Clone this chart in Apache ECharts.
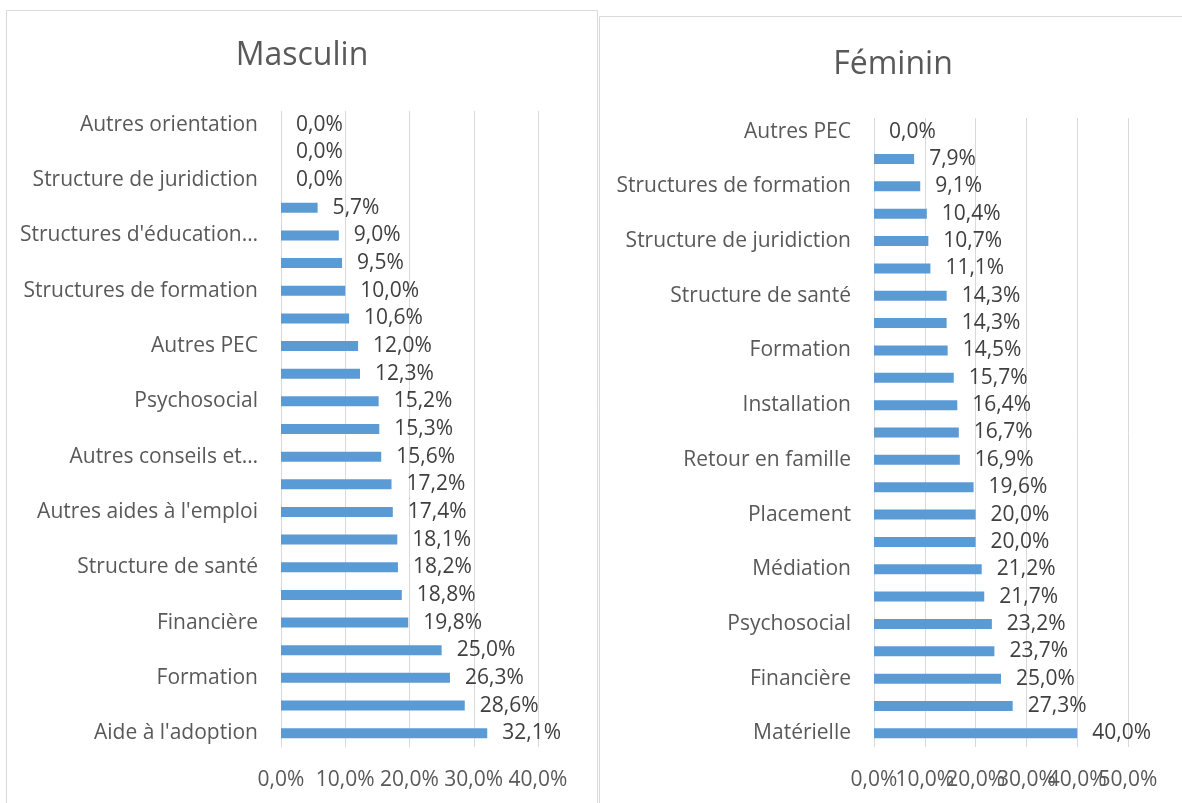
<!DOCTYPE html>
<html>
<head>
<meta charset="utf-8">
<script src="https://cdn.jsdelivr.net/npm/echarts@6/dist/echarts.min.js"></script>
<style>
html,body{margin:0;padding:0;background:#fff;}
#c{width:1182px;height:803px;}
</style>
</head>
<body>
<div id="c"></div>
<script>
// Masculin (top to bottom)
const maleCategories = [
  "Autres orientation", "Médiation", "Structure de juridiction", "Placement",
  "Structures d'éducation…", "Retour en famille", "Structures de formation", "Installation",
  "Autres PEC", "Scolarisation", "Psychosocial", "Juridique",
  "Autres conseils et…", "Santé", "Autres aides à l'emploi", "Alimentaire",
  "Structure de santé", "Logement", "Financière", "Matérielle",
  "Formation", "Autres aides", "Aide à l'adoption"
];
const maleValues = [0.0, 0.0, 0.0, 5.7, 9.0, 9.5, 10.0, 10.6, 12.0, 12.3, 15.2, 15.3,
  15.6, 17.2, 17.4, 18.1, 18.2, 18.8, 19.8, 25.0, 26.3, 28.6, 32.1];

// Féminin (top to bottom)
const femaleCategories = [
  "Autres PEC", "Autres orientation", "Structures de formation", "Structures d'éducation…",
  "Structure de juridiction", "Scolarisation", "Structure de santé", "Juridique",
  "Formation", "Santé", "Installation", "Alimentaire",
  "Retour en famille", "Logement", "Placement", "Autres aides à l'emploi",
  "Médiation", "Autres conseils et…", "Psychosocial", "Autres aides",
  "Financière", "Aide à l'adoption", "Matérielle"
];
const femaleValues = [0.0, 7.9, 9.1, 10.4, 10.7, 11.1, 14.3, 14.3, 14.5, 15.7, 16.4, 16.7,
  16.9, 19.6, 20.0, 20.0, 21.2, 21.7, 23.2, 23.7, 25.0, 27.3, 40.0];

const maleTicks = [0, 10, 20, 30, 40];
const femaleTicks = [0, 10, 20, 30, 40, 50];

const FONT = 'Open Sans';
const fmt = v => v.toFixed(1).replace('.', ',') + '%';

const chart = echarts.init(document.getElementById('c'), null, {renderer: 'canvas'});

function xAx(gi, ticks, labelFilter, showSplit) {
  return {
    gridIndex: gi, type: 'value', min: ticks[0], max: ticks[ticks.length - 1], interval: 10,
    position: 'bottom',
    axisLine: {show: false}, axisTick: {show: false},
    splitLine: {show: showSplit, lineStyle: {color: '#d9d9d9', width: 1}},
    axisLabel: {formatter: v => labelFilter(v) ? fmt(v) : '', color: '#595959', fontFamily: FONT,
      fontSize: 21, margin: 23, hideOverlap: false, showMinLabel: true, showMaxLabel: true}
  };
}
function yAx(gi, cats) {
  return {
    gridIndex: gi, type: 'category', data: cats, inverse: true,
    axisLine: {show: false}, axisTick: {show: false},
    axisLabel: {interval: 1, color: '#595959', fontFamily: FONT, fontSize: 21, margin: 23,
      padding: [4, 0, 0, 0]}
  };
}
function ser(xi, yi, vals) {
  return {
    type: 'bar', xAxisIndex: xi, yAxisIndex: yi, data: vals, barWidth: 10,
    itemStyle: {color: '#5B9BD5'},
    label: {show: true, position: 'right', distance: 15, formatter: p => fmt(p.value),
      color: '#404040', fontFamily: FONT, fontSize: 21, padding: [4, 0, 0, 0]},
    silent: true
  };
}

chart.setOption({
  animation: false,
  textStyle: {fontFamily: FONT},
  graphic: [
    {type: 'rect', shape: {x: 6.5, y: 10.5, width: 591, height: 820}, style: {fill: 'none', stroke: '#d9d9d9', lineWidth: 1}},
    {type: 'rect', shape: {x: 599.5, y: 16.5, width: 620, height: 820}, style: {fill: 'none', stroke: '#d9d9d9', lineWidth: 1}}
  ],
  title: [
    {text: 'Masculin', left: 297, top: 35, textAlign: 'center',
      textStyle: {fontFamily: FONT, fontSize: 32, fontWeight: 'normal', color: '#595959'}},
    {text: 'Féminin', left: 888, top: 44, textAlign: 'center',
      textStyle: {fontFamily: FONT, fontSize: 32, fontWeight: 'normal', color: '#595959'}}
  ],
  grid: [
    {left: 281, width: 257, top: 111, height: 636, containLabel: false},
    {left: 874, width: 254, top: 118, height: 629, containLabel: false}
  ],
  xAxis: [
    xAx(0, maleTicks, v => true, true),
    xAx(1, femaleTicks, v => v % 20 === 0, true),
    xAx(1, femaleTicks, v => v % 20 === 10, false)
  ],
  yAxis: [yAx(0, maleCategories), yAx(1, femaleCategories)],
  series: [ser(0, 0, maleValues), ser(1, 1, femaleValues)]
});
</script>
</body>
</html>
